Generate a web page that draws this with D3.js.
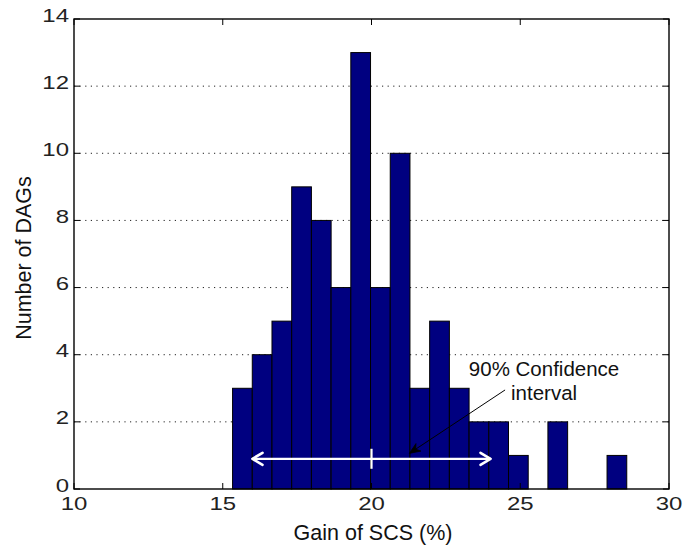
<!DOCTYPE html>
<html>
<head>
<meta charset="utf-8">
<script src="https://cdn.jsdelivr.net/npm/d3@7/dist/d3.min.js"></script>
<style>
  html, body { margin: 0; padding: 0; background: #fff; }
  svg { display: block; }
  text { font-family: "Liberation Sans", Arial, Helvetica, sans-serif; fill: #111; }
</style>
</head>
<body>
<svg id="chart" width="684" height="550"></svg>
<script>
// Histogram of SCS gain over the DAG set (20 equal-width bins)
const binStart = 15.33;          // left edge of the first bin (%)
const binWidth = 0.6625;         // width of each bin (%)
const counts = [3, 4, 5, 9, 8, 6, 13, 6, 10, 3, 5, 3, 2, 2, 1, 0, 2, 0, 0, 1];

const xTicks = [10, 15, 20, 25, 30];
const yTicks = [0, 2, 4, 6, 8, 10, 12, 14];
const gridTicks = [2, 4, 6, 8, 10, 12];

// 90% confidence interval drawn as a double arrow with a mark at the mean
const ciLow = 16, ciHigh = 24, ciMid = 20, ciLevel = 0.9;
const noteLines = ["90% Confidence", "interval"];

const svg = d3.select("#chart");
const plot = { left: 74, right: 669, top: 19, bottom: 489 };

const x = d3.scaleLinear().domain([10, 30]).range([plot.left, plot.right]);
const y = d3.scaleLinear().domain([0, 14]).range([plot.bottom, plot.top]);

const bins = counts.map((c, i) => ({ x0: binStart + i * binWidth, x1: binStart + (i + 1) * binWidth, count: c }));

// dotted horizontal grid (behind the bars)
svg.append("g")
  .selectAll("line")
  .data(gridTicks)
  .join("line")
  .attr("x1", plot.left).attr("x2", plot.right)
  .attr("y1", d => y(d)).attr("y2", d => y(d))
  .attr("stroke", "#222")
  .attr("stroke-width", 1)
  .attr("stroke-dasharray", "1.2,4.4");

// bars
svg.append("g")
  .selectAll("rect")
  .data(bins.filter(b => b.count > 0))
  .join("rect")
  .attr("x", d => x(d.x0))
  .attr("width", d => x(d.x1) - x(d.x0))
  .attr("y", d => y(d.count))
  .attr("height", d => y(0) - y(d.count))
  .attr("fill", "#000080")
  .attr("stroke", "#000")
  .attr("stroke-width", 1);

// inward ticks on all four sides
const tickLen = 6;
const axisG = svg.append("g").attr("stroke", "#000").attr("stroke-width", 1);
xTicks.forEach(t => {
  axisG.append("line").attr("x1", x(t)).attr("x2", x(t)).attr("y1", plot.bottom).attr("y2", plot.bottom - tickLen);
  axisG.append("line").attr("x1", x(t)).attr("x2", x(t)).attr("y1", plot.top).attr("y2", plot.top + tickLen);
});
yTicks.forEach(t => {
  axisG.append("line").attr("x1", plot.left).attr("x2", plot.left + tickLen).attr("y1", y(t)).attr("y2", y(t));
  axisG.append("line").attr("x1", plot.right).attr("x2", plot.right - tickLen).attr("y1", y(t)).attr("y2", y(t));
});

// box
svg.append("rect")
  .attr("x", plot.left).attr("y", plot.top)
  .attr("width", plot.right - plot.left).attr("height", plot.bottom - plot.top)
  .attr("fill", "none").attr("stroke", "#000").attr("stroke-width", 1.4);

// tick labels (wide face)
const tickFont = 17.5, tickStretch = 1.37;
svg.append("g")
  .selectAll("g")
  .data(xTicks)
  .join("g")
  .attr("transform", d => `translate(${x(d)},${plot.bottom + 21})`)
  .append("text")
  .attr("transform", `scale(${tickStretch},1)`)
  .attr("text-anchor", "middle")
  .attr("font-size", tickFont)
  .style("fill", "#222")
  .text(d => d);

svg.append("g")
  .selectAll("g")
  .data(yTicks)
  .join("g")
  .attr("transform", d => `translate(${plot.left - 5},${y(d) + 2.5})`)
  .append("text")
  .attr("transform", `scale(${tickStretch},1)`)
  .attr("text-anchor", "end")
  .attr("font-size", tickFont)
  .style("fill", "#222")
  .text(d => d);

// axis titles
svg.append("text")
  .attr("x", 373).attr("y", 540)
  .attr("text-anchor", "middle")
  .attr("font-size", 21.5)
  .text("Gain of SCS (%)");

svg.append("text")
  .attr("transform", `translate(31,${(plot.top + plot.bottom) / 2 + 4}) rotate(-90)`)
  .attr("text-anchor", "middle")
  .attr("font-size", 21.5)
  .text("Number of DAGs");

// confidence interval double arrow (white)
const ciY = y(ciLevel);
const ci = svg.append("g").attr("stroke", "#fff").attr("fill", "none").attr("stroke-linecap", "round").attr("stroke-linejoin", "round");
ci.append("line").attr("x1", x(ciLow)).attr("x2", x(ciHigh)).attr("y1", ciY).attr("y2", ciY).attr("stroke-width", 2.2);
ci.append("path").attr("d", `M${x(ciLow) + 10},${ciY - 6} L${x(ciLow)},${ciY} L${x(ciLow) + 10},${ciY + 6}`).attr("stroke-width", 2.6);
ci.append("path").attr("d", `M${x(ciHigh) - 10},${ciY - 6} L${x(ciHigh)},${ciY} L${x(ciHigh) - 10},${ciY + 6}`).attr("stroke-width", 2.6);
ci.append("line").attr("x1", x(ciMid)).attr("x2", x(ciMid)).attr("y1", ciY - 10).attr("y2", ciY + 10).attr("stroke-width", 2.2).attr("stroke-linecap", "butt");

// annotation pointer
const from = [x(24.49), y(2.95)], to = [x(21.27), y(1.06)];
svg.append("line")
  .attr("x1", from[0]).attr("y1", from[1]).attr("x2", to[0]).attr("y2", to[1])
  .attr("stroke", "#000").attr("stroke-width", 1);
const ang = Math.atan2(to[1] - from[1], to[0] - from[0]);
const headLen = 11, headW = 4.5;
const bx = to[0] - headLen * Math.cos(ang), by = to[1] - headLen * Math.sin(ang);
const nx = -Math.sin(ang), ny = Math.cos(ang);
const notchX = to[0] - headLen * 0.7 * Math.cos(ang), notchY = to[1] - headLen * 0.7 * Math.sin(ang);
svg.append("path")
  .attr("d", `M${to[0]},${to[1]} L${bx + nx * headW},${by + ny * headW} L${notchX},${notchY} L${bx - nx * headW},${by - ny * headW} Z`)
  .attr("fill", "#000").attr("stroke", "#000").attr("stroke-width", 0.8);

// annotation text
const noteX = x(25.8);
svg.append("text")
  .attr("x", noteX).attr("y", y(3.375))
  .attr("text-anchor", "middle")
  .attr("font-size", 20.5)
  .text(noteLines[0]);
svg.append("text")
  .attr("x", noteX).attr("y", y(2.65))
  .attr("text-anchor", "middle")
  .attr("font-size", 20.5)
  .text(noteLines[1]);
</script>
</body>
</html>
